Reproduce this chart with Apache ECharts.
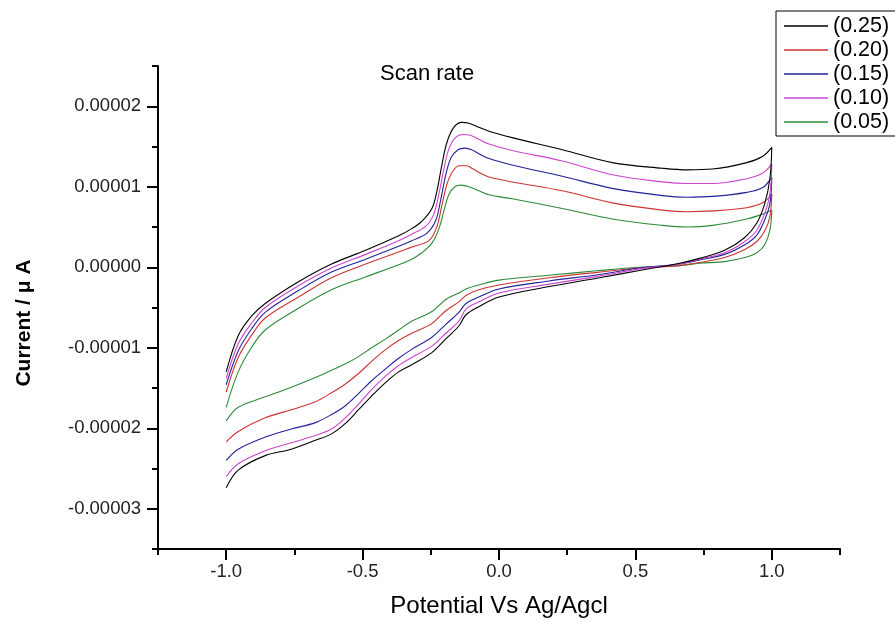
<!DOCTYPE html>
<html>
<head>
<meta charset="utf-8">
<script src="https://cdn.jsdelivr.net/npm/echarts@6/dist/echarts.min.js"></script>
<style>
html,body{margin:0;padding:0;background:#fff;}
#chart{width:895px;height:623px;}
</style>
</head>
<body>
<div id="chart"></div>
<script>
// ---- Data (potential in V, current in A) ----
const seriesNames = ['(0.25)', '(0.20)', '(0.15)', '(0.10)', '(0.05)'];
const seriesColors = ['#000000', '#cc3333', '#22229a', '#cc44cc', '#2e8a3a'];

// forward (upper) branches: potential from -1.0 to 1.0
const upPotential025 = [-1.000,-0.956,-0.908,-0.857,-0.735,-0.614,-0.489,-0.368,-0.320,-0.283,-0.246,-0.228,-0.210,-0.191,-0.165,-0.136,-0.110,-0.074,-0.037,0.048,0.232,0.415,0.599,0.690,0.783,0.908,0.967,1.000];
const upCurrent025   = [-1.30e-5,-0.85e-5,-0.61e-5,-0.45e-5,-0.18e-5,0.04e-5,0.21e-5,0.39e-5,0.48e-5,0.57e-5,0.73e-5,0.94e-5,1.26e-5,1.55e-5,1.74e-5,1.80e-5,1.79e-5,1.74e-5,1.69e-5,1.61e-5,1.46e-5,1.30e-5,1.23e-5,1.21e-5,1.22e-5,1.30e-5,1.38e-5,1.49e-5];

const upPotential020 = [-1.000,-0.956,-0.908,-0.857,-0.735,-0.614,-0.489,-0.368,-0.320,-0.257,-0.228,-0.210,-0.191,-0.170,-0.145,-0.118,-0.095,-0.074,-0.037,0.048,0.232,0.415,0.599,0.690,0.783,0.908,0.967,1.000];
const upCurrent020   = [-1.55e-5,-1.12e-5,-0.85e-5,-0.63e-5,-0.37e-5,-0.13e-5,0.04e-5,0.19e-5,0.25e-5,0.33e-5,0.50e-5,0.76e-5,1.03e-5,1.19e-5,1.26e-5,1.26e-5,1.22e-5,1.18e-5,1.12e-5,1.06e-5,0.95e-5,0.80e-5,0.71e-5,0.69e-5,0.70e-5,0.74e-5,0.80e-5,0.91e-5];

const upPotential015 = [-1.000,-0.956,-0.908,-0.857,-0.735,-0.614,-0.489,-0.368,-0.320,-0.265,-0.232,-0.213,-0.195,-0.176,-0.150,-0.125,-0.100,-0.074,-0.037,0.048,0.232,0.415,0.599,0.690,0.783,0.908,0.967,1.000];
const upCurrent015   = [-1.46e-5,-1.04e-5,-0.77e-5,-0.56e-5,-0.29e-5,-0.06e-5,0.10e-5,0.26e-5,0.33e-5,0.42e-5,0.58e-5,0.85e-5,1.15e-5,1.36e-5,1.46e-5,1.48e-5,1.46e-5,1.41e-5,1.35e-5,1.27e-5,1.13e-5,0.98e-5,0.89e-5,0.87e-5,0.88e-5,0.93e-5,0.99e-5,1.12e-5];

const upPotential010 = [-1.000,-0.956,-0.908,-0.857,-0.735,-0.614,-0.489,-0.368,-0.320,-0.268,-0.239,-0.221,-0.202,-0.183,-0.160,-0.132,-0.105,-0.074,-0.037,0.048,0.232,0.415,0.599,0.690,0.783,0.908,0.967,1.000];
const upCurrent010   = [-1.38e-5,-0.95e-5,-0.70e-5,-0.50e-5,-0.23e-5,-0.01e-5,0.16e-5,0.33e-5,0.41e-5,0.51e-5,0.66e-5,0.90e-5,1.22e-5,1.48e-5,1.61e-5,1.65e-5,1.64e-5,1.59e-5,1.53e-5,1.45e-5,1.32e-5,1.15e-5,1.06e-5,1.04e-5,1.04e-5,1.10e-5,1.17e-5,1.28e-5];

const upPotential005 = [-1.000,-0.956,-0.908,-0.857,-0.735,-0.614,-0.489,-0.368,-0.320,-0.283,-0.246,-0.221,-0.202,-0.184,-0.162,-0.140,-0.110,-0.074,-0.037,0.048,0.232,0.415,0.599,0.690,0.783,0.908,0.967,1.000];
const upCurrent005   = [-1.74e-5,-1.30e-5,-1.00e-5,-0.78e-5,-0.51e-5,-0.28e-5,-0.12e-5,0.03e-5,0.10e-5,0.18e-5,0.30e-5,0.47e-5,0.70e-5,0.90e-5,1.00e-5,1.02e-5,1.00e-5,0.95e-5,0.90e-5,0.85e-5,0.73e-5,0.60e-5,0.52e-5,0.50e-5,0.52e-5,0.60e-5,0.66e-5,0.71e-5];

// reverse (lower) branches: potential from 1.0 back to -1.0
const downPotential = [0.993,0.974,0.945,0.901,0.827,0.735,0.662,0.515,0.368,0.184,0.000,-0.074,-0.121,-0.147,-0.195,-0.246,-0.320,-0.368,-0.415,-0.467,-0.515,-0.563,-0.614,-0.673,-0.761,-0.857,-0.956,-1.000];
const downCurrent025 = [1.10e-5,0.79e-5,0.55e-5,0.37e-5,0.21e-5,0.11e-5,0.05e-5,-0.04e-5,-0.13e-5,-0.24e-5,-0.37e-5,-0.49e-5,-0.59e-5,-0.73e-5,-0.89e-5,-1.06e-5,-1.21e-5,-1.30e-5,-1.43e-5,-1.60e-5,-1.77e-5,-1.94e-5,-2.07e-5,-2.15e-5,-2.26e-5,-2.34e-5,-2.52e-5,-2.74e-5];
const downCurrent020 = [0.63e-5,0.45e-5,0.32e-5,0.22e-5,0.12e-5,0.06e-5,0.02e-5,-0.01e-5,-0.06e-5,-0.13e-5,-0.22e-5,-0.28e-5,-0.35e-5,-0.43e-5,-0.54e-5,-0.70e-5,-0.82e-5,-0.91e-5,-1.02e-5,-1.17e-5,-1.32e-5,-1.45e-5,-1.56e-5,-1.67e-5,-1.77e-5,-1.87e-5,-2.04e-5,-2.17e-5];
const downCurrent015 = [0.79e-5,0.59e-5,0.40e-5,0.28e-5,0.16e-5,0.09e-5,0.04e-5,-0.01e-5,-0.09e-5,-0.17e-5,-0.27e-5,-0.37e-5,-0.45e-5,-0.56e-5,-0.71e-5,-0.87e-5,-1.02e-5,-1.13e-5,-1.26e-5,-1.41e-5,-1.57e-5,-1.72e-5,-1.83e-5,-1.93e-5,-2.01e-5,-2.11e-5,-2.26e-5,-2.40e-5];
const downCurrent010 = [0.91e-5,0.67e-5,0.46e-5,0.32e-5,0.18e-5,0.10e-5,0.04e-5,-0.02e-5,-0.11e-5,-0.21e-5,-0.32e-5,-0.43e-5,-0.52e-5,-0.67e-5,-0.82e-5,-0.98e-5,-1.12e-5,-1.22e-5,-1.35e-5,-1.52e-5,-1.70e-5,-1.87e-5,-2.01e-5,-2.09e-5,-2.18e-5,-2.28e-5,-2.44e-5,-2.60e-5];
const downCurrent005 = [0.46e-5,0.28e-5,0.18e-5,0.12e-5,0.07e-5,0.05e-5,0.02e-5,0.00e-5,-0.04e-5,-0.10e-5,-0.16e-5,-0.22e-5,-0.27e-5,-0.32e-5,-0.40e-5,-0.55e-5,-0.67e-5,-0.78e-5,-0.89e-5,-1.00e-5,-1.11e-5,-1.20e-5,-1.28e-5,-1.37e-5,-1.49e-5,-1.61e-5,-1.74e-5,-1.91e-5];

const xMajorTicks = [-1.0, -0.5, 0.0, 0.5, 1.0];
const yMajorTicks = [-3e-5, -2e-5, -1e-5, 0, 1e-5, 2e-5];

// ---- Build ----
const upPotentials = [upPotential025, upPotential020, upPotential015, upPotential010, upPotential005];
const upCurrents = [upCurrent025, upCurrent020, upCurrent015, upCurrent010, upCurrent005];
const downCurrents = [downCurrent025, downCurrent020, downCurrent015, downCurrent010, downCurrent005];
function loop(i) {
  const a = upPotentials[i].map((x, k) => [x, upCurrents[i][k]]);
  const b = downPotential.map((x, k) => [x, downCurrents[i][k]]);
  return a.concat(b);
}

const FONT = "'Liberation Sans', Arial, sans-serif";
const chart = echarts.init(document.getElementById('chart'), null, {renderer: 'canvas'});

const drawOrder = [4, 1, 2, 3, 0];
const series = seriesNames.map((name, i) => ({
  name: name,
  type: 'line',
  data: loop(i),
  xAxisIndex: 0,
  yAxisIndex: 0,
  symbol: 'none',
  smooth: 0.35,
  smoothMonotone: 'none',
  lineStyle: {color: seriesColors[i], width: 1.1},
  itemStyle: {color: seriesColors[i]},
  z: 2 + drawOrder.indexOf(i) * 0.01,
  animation: false
}));

const axisLineStyle = {color: '#000', width: 2};

chart.setOption({
  animation: false,
  backgroundColor: '#ffffff',
  textStyle: {fontFamily: FONT},
  grid: {left: 158, right: 55, top: 66, bottom: 66, containLabel: false},
  title: {
    text: 'Scan rate', left: 380, top: 63, padding: 0,
    textStyle: {fontFamily: FONT, fontSize: 22, fontWeight: 'normal', color: '#000'}
  },
  legend: {
    orient: 'vertical', left: 776, top: 11,
    padding: [4, 8, 3, 8],
    icon: 'rect',
    itemWidth: 44, itemHeight: 1.5, itemGap: 2,
    borderColor: '#000', borderWidth: 1,
    backgroundColor: '#fff',
    data: seriesNames,
    textStyle: {fontFamily: FONT, fontSize: 21.5, lineHeight: 21, color: '#000'}
  },
  xAxis: [
    {
      type: 'value', min: -1.25, max: 1.25, interval: 0.25,
      name: 'Potential Vs Ag/Agcl', nameLocation: 'middle', nameGap: 45,
      nameTextStyle: {fontFamily: FONT, fontSize: 24, color: '#000'},
      axisLine: {show: true, onZero: false, lineStyle: axisLineStyle},
      axisTick: {show: true, length: 6, lineStyle: axisLineStyle},
      axisLabel: {
        show: true, margin: 13, fontFamily: FONT, fontSize: 18.5, color: '#222',
        formatter: v => (Math.abs(Math.round(v * 100)) % 50 === 0) ? v.toFixed(1) : ''
      },
      splitLine: {show: false}
    },
    {
      type: 'value', min: -1.25, max: 1.25, position: 'bottom', gridIndex: 0,
      axisLine: {show: false, onZero: false},
      axisTick: {show: true, length: 11, customValues: xMajorTicks, lineStyle: axisLineStyle},
      axisLabel: {show: false},
      splitLine: {show: false}
    }
  ],
  yAxis: [
    {
      type: 'value', min: -3.5e-5, max: 2.5e-5, interval: 0.5e-5,
      axisLine: {show: true, onZero: false, lineStyle: axisLineStyle},
      axisTick: {show: true, length: 6, lineStyle: axisLineStyle},
      axisLabel: {
        show: true, margin: 17, fontFamily: FONT, fontSize: 18.5, color: '#222',
        formatter: v => { const k = Math.round(v * 1e6); return (k % 10 === 0) ? (k / 1e6).toFixed(5) : ''; }
      },
      splitLine: {show: false}
    },
    {
      type: 'value', min: -3.5e-5, max: 2.5e-5, position: 'left', gridIndex: 0,
      axisLine: {show: false, onZero: false},
      axisTick: {show: true, length: 11, customValues: yMajorTicks, lineStyle: axisLineStyle},
      axisLabel: {show: false},
      splitLine: {show: false}
    }
  ],
  graphic: [{
    type: 'text', x: 24, y: 323, rotation: Math.PI / 2,
    style: {
      text: 'Current / μ A', fontFamily: FONT, fontSize: 21, fontWeight: 'bold',
      fill: '#000', align: 'center', verticalAlign: 'middle'
    }
  }],
  series: series
});
</script>
</body>
</html>
